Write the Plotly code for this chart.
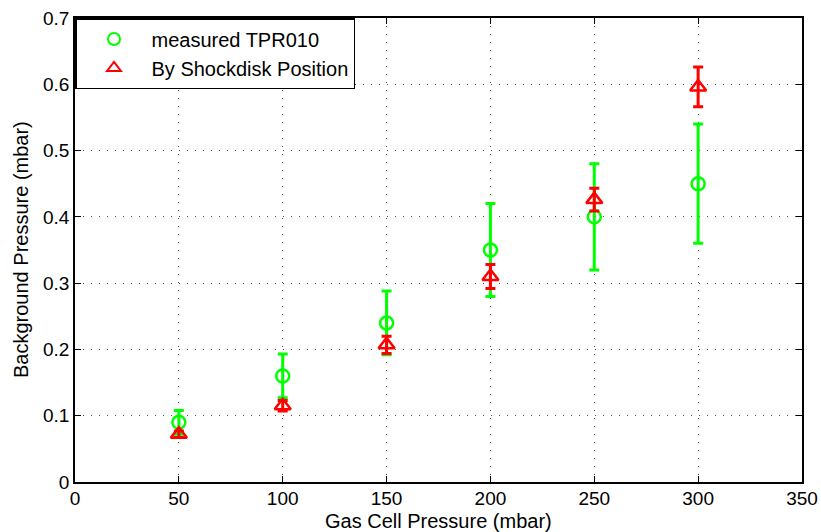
import plotly.graph_objects as go

x_vals = [50, 100, 150, 200, 250, 300]
measured = [0.09, 0.16, 0.24, 0.35, 0.40, 0.45]
measured_err = [0.018, 0.033, 0.048, 0.07, 0.08, 0.09]
shock = [0.072, 0.115, 0.207, 0.310, 0.426, 0.596]
shock_err = [0.005, 0.008, 0.013, 0.018, 0.017, 0.030]

x_title = "Gas Cell Pressure (mbar)"
y_title = "Background Pressure (mbar)"

font = "Liberation Sans, Arial, sans-serif"

fig = go.Figure()
fig.add_trace(go.Scatter(
    x=x_vals, y=measured, mode="markers", name="measured TPR010",
    marker=dict(symbol="circle-open", size=13, color="#00ff00", line=dict(width=2.5, color="#00ff00")),
    error_y=dict(type="data", array=measured_err, color="#00ff00", thickness=3, width=5),
))
fig.add_trace(go.Scatter(
    x=x_vals, y=shock, mode="markers", name="By Shockdisk Position",
    marker=dict(symbol="triangle-up-open", size=14, color="#ff0000", line=dict(width=2.5, color="#ff0000")),
    error_y=dict(type="data", array=shock_err, color="#ff0000", thickness=3, width=5),
))

axis_common = dict(
    showline=True, linecolor="black", linewidth=1.5, mirror="ticks",
    ticks="inside", ticklen=6, tickcolor="black",
    showgrid=True, gridcolor="rgba(0,0,0,0.7)", griddash="1px,7px", gridwidth=1,
    zeroline=False, tickfont=dict(family=font, size=19, color="black"),
    automargin=False,
)

fig.update_layout(
    width=821, height=532,
    margin=dict(l=75, r=19, t=18, b=50),
    paper_bgcolor="white", plot_bgcolor="white",
    font=dict(family=font, color="black"),
    xaxis=dict(range=[0, 350], dtick=50, ticklabelstandoff=-2, **axis_common),
    yaxis=dict(range=[0, 0.7], dtick=0.1, **axis_common),
    legend=dict(x=0, y=1, xanchor="left", yanchor="top",
                bgcolor="white", bordercolor="black", borderwidth=1.5,
                font=dict(family=font, size=20, color="black"),
                itemsizing="constant", itemwidth=65, tracegroupgap=0),
    showlegend=True,
    annotations=[
        dict(text=x_title, xref="paper", yref="paper", x=0.5, y=0,
             xanchor="center", yanchor="top", yshift=-26, showarrow=False,
             font=dict(family=font, size=20, color="black")),
        dict(text=y_title, xref="paper", yref="paper", x=0, y=0.5,
             xanchor="center", yanchor="middle", xshift=-54, textangle=-90,
             showarrow=False, font=dict(family=font, size=20, color="black")),
    ],
)

fig.write_html("out.html")
